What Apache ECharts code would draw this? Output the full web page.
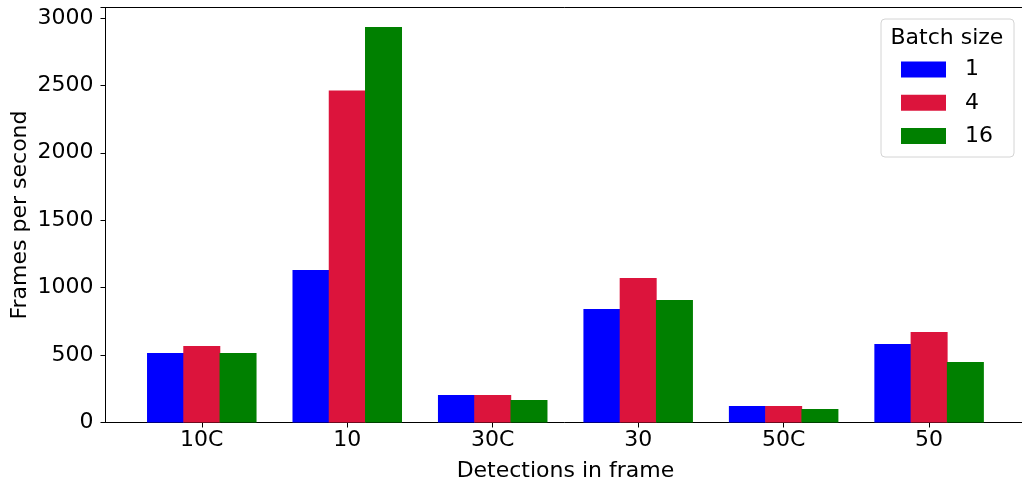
<!DOCTYPE html>
<html>
<head>
<meta charset="utf-8">
<script src="https://cdn.jsdelivr.net/npm/echarts@6/dist/echarts.min.js"></script>
<style>html,body{margin:0;padding:0;background:#fff}#c{width:1022px;height:482px}</style>
</head>
<body>
<div id="c"></div>
<script>
const categories = ['10C', '10', '30C', '30', '50C', '50'];
const seriesNames = ['1', '4', '16'];
const batch1 = [516, 1130, 204, 842, 122, 582];
const batch4 = [568, 2462, 204, 1072, 122, 671];
const batch16 = [516, 2932, 167, 909, 100, 449];
const yTicks = [0, 500, 1000, 1500, 2000, 2500, 3000];
const colors = ['#0000ff', '#dc143c', '#008000'];

const FONT = 'DejaVu Sans';
const chart = echarts.init(document.getElementById('c'), null, {renderer: 'canvas'});
const yMax = 3077;
const values = [batch1, batch4, batch16];

chart.setOption({
  animation: false,
  backgroundColor: '#fff',
  textStyle: {fontFamily: FONT},
  grid: [
    {left: 105.5, top: 7.5, width: 920, height: 415, show: true, borderColor: '#000', borderWidth: 1,
     backgroundColor: 'transparent', containLabel: false, outerBoundsMode: 'none'},
    {left: 129.05, top: 7.5, width: 872.8, height: 415, containLabel: false, outerBoundsMode: 'none'}
  ],
  xAxis: [
    {gridIndex: 0, type: 'value', min: 0, max: 1, show: false},
    {gridIndex: 1, type: 'category', data: categories, boundaryGap: true,
     axisLine: {show: false},
     axisTick: {show: true, alignWithLabel: true, length: 5, lineStyle: {color: '#000', width: 1}},
     axisLabel: {color: '#000', fontSize: 22, fontFamily: FONT, margin: 7},
     name: 'Detections in frame', nameLocation: 'middle', nameGap: 38, nameMoveOverlap: false,
     nameTextStyle: {color: '#000', fontSize: 22, fontFamily: FONT}
    }
  ],
  yAxis: [
    {gridIndex: 0, type: 'value', min: 0, max: yMax, interval: 500,
     axisLine: {show: true, lineStyle: {color: '#000', width: 1}},
     axisTick: {show: true, length: 5, lineStyle: {color: '#000', width: 1}},
     axisLabel: {color: '#000', fontSize: 22, fontFamily: FONT, margin: 12,
       formatter: v => yTicks.includes(v) ? String(v) : ''},
     splitLine: {show: false},
     name: 'Frames per second', nameLocation: 'middle', nameGap: 74, nameRotate: 90, nameMoveOverlap: false,
     nameTextStyle: {color: '#000', fontSize: 22, fontFamily: FONT}
    },
    {gridIndex: 1, type: 'value', min: 0, max: yMax, show: false, splitLine: {show: false}}
  ],
  legend: {
    orient: 'vertical', left: 896, top: 53.5,
    itemWidth: 45, itemHeight: 16, itemGap: 11.3,
    icon: 'rect',
    data: seriesNames,
    textStyle: {color: '#000', fontSize: 22, fontFamily: FONT, padding: [0, 0, 0, 14]}
  },
  graphic: [
    {type: 'rect', left: 880.5, top: 18.5, shape: {width: 133, height: 138, r: 4},
     style: {fill: 'rgba(255,255,255,0.8)', stroke: '#d4d4d4', lineWidth: 1}, z: 0},
    {type: 'text', left: 890.5, top: 27, style: {text: 'Batch size', fill: '#000', fontSize: 22, fontFamily: FONT}, z: 10}
  ],
  series: seriesNames.map((n, i) => ({
    name: n, type: 'bar', xAxisIndex: 1, yAxisIndex: 1,
    data: values[i], barWidth: 37, barGap: '-2%',
    itemStyle: {color: colors[i], borderWidth: 0}, z: 2
  }))
});
</script>
</body>
</html>
